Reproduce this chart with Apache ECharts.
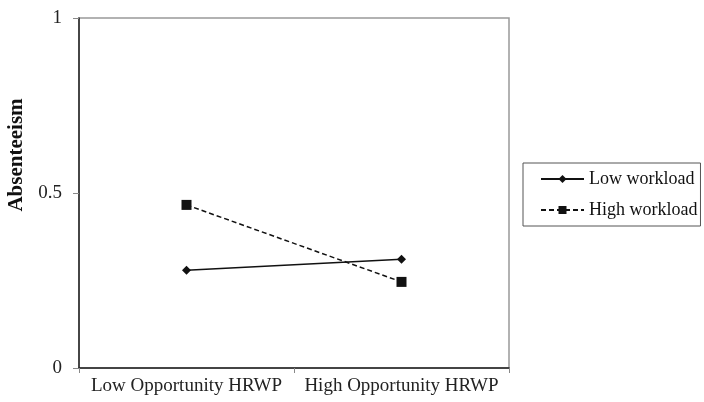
<!DOCTYPE html>
<html><head><meta charset="utf-8">
<script src="https://cdn.jsdelivr.net/npm/echarts@6/dist/echarts.min.js"></script>
<style>html,body{margin:0;padding:0;background:#fff}#c{width:704px;height:402px}</style>
</head><body><div id="c"></div>
<script>
const categories = ["Low Opportunity HRWP", "High Opportunity HRWP"];
const lowWorkload = [0.279, 0.311];
const highWorkload = [0.466, 0.246];
const seriesNames = ["Low workload", "High workload"];
const yTicks = [0, 0.5, 1];
const yTitle = "Absenteeism";

const chart = echarts.init(document.getElementById('c'));
const font = '"Liberation Serif", "Times New Roman", serif';
chart.setOption({
  animation: false,
  textStyle: { fontFamily: font },
  grid: { left: 79, top: 18, width: 430, height: 350, show: true, borderColor: '#999', borderWidth: 1.5, backgroundColor: '#fff' },
  graphic: [{
    type: 'text', x: 17, y: 155, rotation: Math.PI / 2,
    style: { text: yTitle, font: 'bold 21px ' + font, fill: '#111', align: 'center', verticalAlign: 'middle' }
  }],
  legend: {
    orient: 'vertical', left: 523, top: 163,
    padding: [7, 3, 7, 17], itemGap: 13, itemWidth: 43, itemHeight: 10,
    borderColor: '#555', borderWidth: 1,
    textStyle: { fontFamily: font, fontSize: 18, color: '#111' },
    data: seriesNames
  },
  xAxis: {
    type: 'category', data: categories, boundaryGap: true,
    axisLine: { lineStyle: { color: '#222', width: 1.5 } },
    axisTick: { show: true, length: 5, lineStyle: { color: '#888' } },
    axisLabel: { fontFamily: font, fontSize: 19, color: '#222', margin: 9, interval: 0, hideOverlap: false }
  },
  yAxis: {
    type: 'value', min: 0, max: 1, interval: 0.5,
    axisLine: { show: true, lineStyle: { color: '#222', width: 1.5 } },
    axisTick: { show: true, length: 6, lineStyle: { color: '#888' } },
    splitLine: { show: false },
    axisLabel: { fontFamily: font, fontSize: 19, color: '#222', margin: 17,
      formatter: v => yTicks.includes(v) ? String(v) : '' }
  },
  series: [
    { name: seriesNames[0], type: 'line', data: lowWorkload, symbol: 'diamond', symbolSize: 9,
      lineStyle: { color: '#111', width: 1.5, type: 'solid' }, itemStyle: { color: '#111' } },
    { name: seriesNames[1], type: 'line', data: highWorkload, symbol: 'rect', symbolSize: 10,
      lineStyle: { color: '#111', width: 1.5, type: [5, 3] }, itemStyle: { color: '#111' } }
  ]
});
</script></body></html>
